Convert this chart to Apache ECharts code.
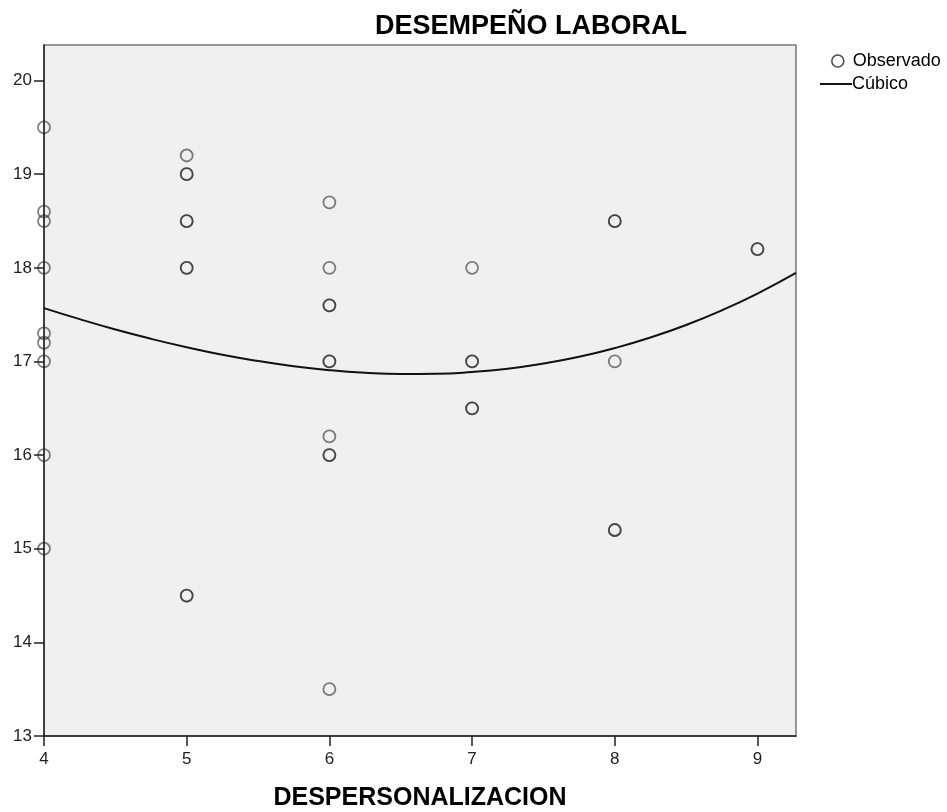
<!DOCTYPE html>
<html><head><meta charset="utf-8">
<script src="https://cdn.jsdelivr.net/npm/echarts@6/dist/echarts.min.js"></script>
<style>html,body{margin:0;padding:0;background:#fff}#c{width:947px;height:812px}</style>
</head><body><div id="c"></div>
<script>
const obsX = [4,4,4,4,4,4,4,4,4, 5,5,5,5,5,5,5,5,5, 6,6,6,6,6,6,6,6,6,6, 7,7,7,7,7, 8,8,8,8,8, 9,9];
const obsY = [19.5,18.6,18.5,18,17.3,17.2,17,16,15, 19.2,19,19,18.5,18.5,18,18,14.5,14.5, 18.7,18,17.6,17.6,17,17,16.2,16,16,13.5, 18,17,17,16.5,16.5, 18.5,18.5,17,15.2,15.2, 18.2,18.2];
const curveX = [4, 4.25, 4.5, 4.75, 5, 5.25, 5.5, 5.75, 6, 6.25, 6.5, 6.75, 7, 7.25, 7.5, 7.75, 8, 8.25, 8.5, 8.75, 9, 9.27];
const curveY = [17.57, 17.452, 17.342, 17.242, 17.152, 17.072, 17.005, 16.949, 16.907, 16.879, 16.866, 16.868, 16.887, 16.923, 16.978, 17.050, 17.143, 17.256, 17.390, 17.546, 17.725, 17.945];
const xTicks = [4,5,6,7,8,9];
const yTicks = [13,14,15,16,17,18,19,20];

const font = 'Liberation Sans, Arial, sans-serif';
const chart = echarts.init(document.getElementById('c'));
chart.setOption({
  animation: false,
  title: { text: 'DESEMPEÑO LABORAL', left: 370, top: 8,
    textStyle: { fontFamily: font, fontSize: 27, fontWeight: 'bold', color: '#000' } },
  legend: [
    { orient: 'vertical', left: 826, top: 47, itemWidth: 12, itemHeight: 12,
      textStyle: { fontFamily: font, fontSize: 18, color: '#000', padding: [0,0,0,4] },
      data: [{ name: 'Observado', icon: 'circle',
        itemStyle: { color: 'rgba(0,0,0,0)', borderColor: '#222', borderWidth: 1.6 } }] },
    { orient: 'vertical', left: 815, top: 70, itemWidth: 32, itemHeight: 2,
      textStyle: { fontFamily: font, fontSize: 18, color: '#000', padding: [0,0,0,-5] },
      data: [{ name: 'Cúbico', icon: 'rect', itemStyle: { color: '#111' } }] }
  ],
  grid: { left: 44, top: 45, right: 151, bottom: 76, outerBoundsMode: 'none', containLabel: false,
    show: true, backgroundColor: '#f0f0f0', borderColor: '#777', borderWidth: 1.5 },
  xAxis: { type: 'value', min: 4, max: 9.27, interval: 1,
    name: 'DESPERSONALIZACION', nameLocation: 'middle', nameGap: 50,
    nameTextStyle: { fontFamily: font, fontSize: 25, fontWeight: 'bold', color: '#000' },
    axisLine: { show: true, lineStyle: { color: '#222', width: 1.5 } },
    axisTick: { show: true, length: 10, lineStyle: { color: '#222', width: 1.5 }, customValues: xTicks },
    axisLabel: { customValues: xTicks, margin: 15, fontFamily: font, fontSize: 17, color: '#222' },
    splitLine: { show: false } },
  yAxis: { type: 'value', min: 13, max: 20.38, interval: 1,
    axisLine: { show: true, lineStyle: { color: '#222', width: 1.5 } },
    axisTick: { show: true, length: 10, lineStyle: { color: '#222', width: 1.5 }, customValues: yTicks },
    axisLabel: { customValues: yTicks, margin: 12, fontFamily: font, fontSize: 17, color: '#222' },
    splitLine: { show: false } },
  series: [
    { name: 'Observado', type: 'scatter', symbol: 'circle', symbolSize: 12,
      itemStyle: { color: 'rgba(0,0,0,0)', borderColor: 'rgba(30,30,30,0.7)', borderWidth: 1.8 },
      data: obsX.map((x, i) => [x, obsY[i]]) },
    { name: 'Cúbico', type: 'line', smooth: true, symbol: 'none',
      lineStyle: { color: '#111', width: 2 }, itemStyle: { color: '#111' },
      data: curveX.map((x, i) => [x, curveY[i]]) }
  ]
});
</script></body></html>
